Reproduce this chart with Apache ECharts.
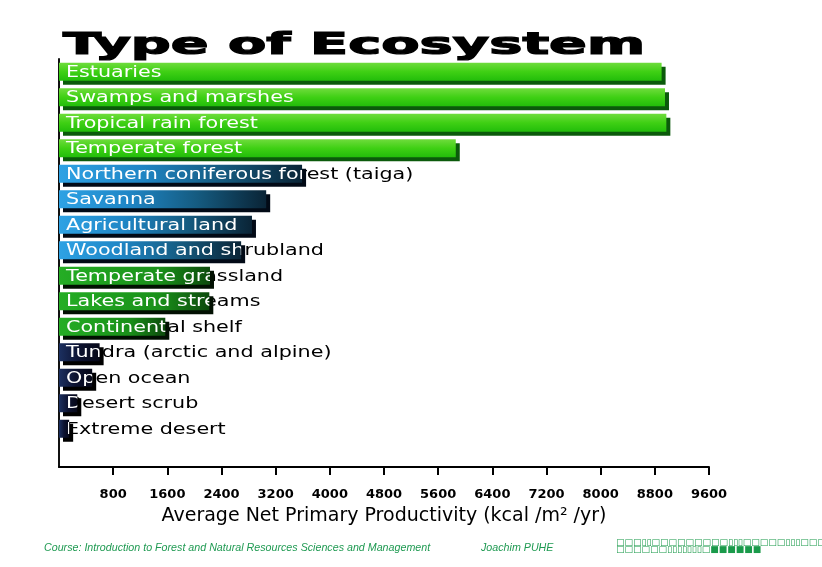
<!DOCTYPE html>
<html><head><meta charset="utf-8">
<script src="https://cdn.jsdelivr.net/npm/echarts@6/dist/echarts.min.js"></script>
<style>html,body{margin:0;padding:0;background:#fff}#c{width:822px;height:567px}</style>
</head><body><div id="c"></div>
<script>
// ---- data ----
const chartTitle = 'Type of Ecosystem';
const categories = ['Estuaries','Swamps and marshes','Tropical rain forest','Temperate forest',
  'Northern coniferous forest (taiga)','Savanna','Agricultural land','Woodland and shrubland',
  'Temperate grassland','Lakes and streams','Continental shelf','Tundra (arctic and alpine)',
  'Open ocean','Desert scrub','Extreme desert'];
const productivity = [8900,8950,8970,5860,3590,3060,2850,2690,2230,2220,1570,600,490,270,150];
const tickValues = [800,1600,2400,3200,4000,4800,5600,6400,7200,8000,8800,9600];
const xAxisTitle = 'Average Net Primary Productivity (kcal /m\u00B2 /yr)';
const footerCourse = 'Course: Introduction to Forest and Natural Resources Sciences and Management';
const footerAuthor = 'Joachim PUHE';

// ---- styles ----
function grad(h, stops){
  return new echarts.graphic.LinearGradient(0,0,h?1:0,h?0:1, stops.map((c,k)=>({offset:k/(stops.length-1),color:c})));
}
function styleFor(i){
  if(i<4) return {color:grad(false,['#6fdc3c','#3fd014','#22bd0a']), shadowColor:'#0b5a0b'};
  if(i<8) return {color:grad(true,['#2ea2e4','#1f86c6','#155b80','#0a2436']), shadowColor:'#020a16'};
  if(i<11) return {color:grad(true,['#25ad25','#1e9e1e','#1a901a','#0c4a0c']), shadowColor:'#021002'};
  return {color:grad(true,['#1c3060','#0c1230','#060818']), shadowColor:'#000000'};
}
const labelFont = '15px "DejaVu Sans"';
const labelScale = 1.38;

function labelEl(api, color, clip){
  const v = api.value(0), idx = api.value(1);
  const p0 = api.coord([0, idx]);
  const p1 = api.coord([v, idx]);
  const t = {type:'text', x:p0[0]+7, y:p0[1]+1, scaleX:labelScale,
    style:{text:categories[idx], fill:color, font:labelFont, align:'left', verticalAlign:'middle'}};
  if(!clip) return t;
  return {type:'group', clipPath:{type:'rect', shape:{x:p0[0], y:p0[1]-10, width:p1[0]-p0[0], height:20}}, children:[t]};
}

const chart = echarts.init(document.getElementById('c'));
const labelData = productivity.map((v,i)=>[v,i]);
chart.setOption({
  backgroundColor:'#fff',
  animation:false,
  grid:{left:59, right:113, top:59, bottom:100, outerBoundsMode:'none'},
  xAxis:{type:'value', min:0, max:9600,
    axisLine:{show:true, onZero:false, lineStyle:{color:'#000', width:2}},
    axisTick:{show:true, customValues:tickValues, length:8, lineStyle:{color:'#000', width:2}},
    axisLabel:{customValues:tickValues, formatter:(v)=>String(v), color:'#000', fontFamily:'DejaVu Sans', fontWeight:'bold', fontSize:13, margin:21},
    splitLine:{show:false},
    name:xAxisTitle, nameLocation:'middle', nameGap:40,
    nameTextStyle:{color:'#000', fontFamily:'DejaVu Sans', fontSize:19}
  },
  yAxis:{type:'category', data:categories, inverse:true, max:15,
    axisLine:{show:true, onZero:false, lineStyle:{color:'#111', width:2}},
    axisTick:{show:false}, axisLabel:{show:false}, splitLine:{show:false}
  },
  graphic:[
    {type:'text', x:63, y:46, scaleX:1.86, silent:true,
      style:{text:chartTitle, font:'bold 30px "DejaVu Sans"', fill:'#000', stroke:'#000', lineWidth:1.2, align:'left', verticalAlign:'middle'}},
    {type:'text', x:44, y:548, silent:true,
      style:{text:footerCourse, font:'italic 10.7px "Liberation Sans"', fill:'#1f9a52', verticalAlign:'middle'}},
    {type:'text', x:481, y:548, silent:true,
      style:{text:footerAuthor, font:'italic 10.7px "Liberation Sans"', fill:'#1f9a52', verticalAlign:'middle'}},
    {type:'text', x:616, y:543, silent:true,
      style:{text:'\u25A1\u25A1\u25A1\u25AF\u25AF\u25A1\u25A1\u25A1\u25A1\u25A1\u25A1\u25A1\u25A1\u25A1\u25AF\u25AF\u25AF\u25A1\u25A1\u25A1\u25A1\u25A1\u25AF\u25AF\u25AF\u25A1\u25A1\u25A1\u25A1', font:'9px "DejaVu Sans"', fill:'#1a9a4a', verticalAlign:'middle'}},
    {type:'text', x:616, y:550, silent:true,
      style:{text:'\u25A1\u25A1\u25A1\u25A1\u25A1\u25A1\u25AF\u25AF\u25AF\u25AF\u25AF\u25AF\u25AF\u25A1\u25A0\u25A0\u25A0\u25A0\u25A0\u25A0', font:'9px "DejaVu Sans"', fill:'#1a9a4a', verticalAlign:'middle'}}
  ],
  series:[
    {type:'custom', z:1, silent:true, clip:false, encode:{x:0,y:1}, data:labelData,
      renderItem:(params, api)=>labelEl(api,'#000',false)},
    {type:'bar', z:2, silent:true, barWidth:18, data:productivity.map((v,i)=>({value:v, itemStyle:styleFor(i)})),
      itemStyle:{shadowBlur:0, shadowOffsetX:4, shadowOffsetY:4}},
    {type:'custom', z:3, silent:true, clip:false, encode:{x:0,y:1}, data:labelData,
      renderItem:(params, api)=>labelEl(api,'#fff',true)}
  ]
});
</script></body></html>
